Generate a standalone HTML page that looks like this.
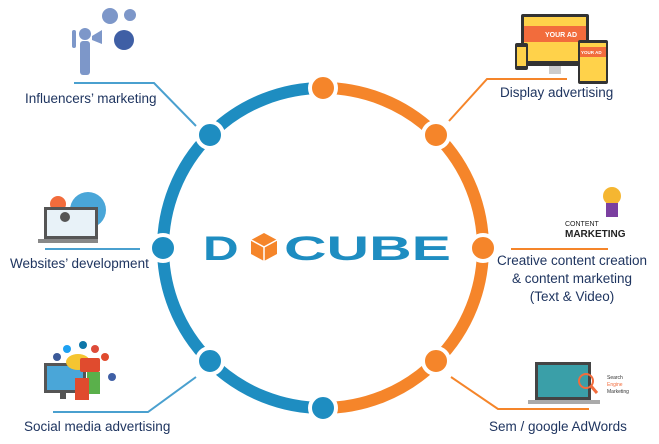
<!DOCTYPE html>
<html><head><meta charset="utf-8"><style>
body{margin:0;background:#fff;width:659px;height:444px;overflow:hidden}
svg{display:block}
text{font-family:"Liberation Sans",sans-serif}
.lbl{fill:#1f3560;font-size:13.5px}
</style></head><body>
<svg width="659" height="444" viewBox="0 0 659 444">
<!-- ring -->
<g>
<path d="M323 88 A160 160 0 0 0 323 408" fill="none" stroke="#1e8dc1" stroke-width="12"/>
<path d="M323 88 A160 160 0 0 1 323 408" fill="none" stroke="#f5852a" stroke-width="12"/>
</g>
<g stroke="#fff" stroke-width="4">
<circle cx="323" cy="88" r="13" fill="#f5852a"/>
<circle cx="436" cy="135" r="13" fill="#f5852a"/>
<circle cx="483" cy="248" r="13" fill="#f5852a"/>
<circle cx="436" cy="361" r="13" fill="#f5852a"/>
<circle cx="323" cy="408" r="13" fill="#1e8dc1"/>
<circle cx="210" cy="361" r="13" fill="#1e8dc1"/>
<circle cx="163" cy="248" r="13" fill="#1e8dc1"/>
<circle cx="210" cy="135" r="13" fill="#1e8dc1"/>
</g>
<!-- logo -->
<g>
<text x="203" y="260" font-size="34" font-weight="bold" fill="#1e8dc1" transform="translate(203 0) scale(1.45 1) translate(-203 0)">D</text>
<g>
<polygon points="264,233 277,240 277,254 264,261 251,254 251,240" fill="#f5852a"/>
<polyline points="251,240 264,247 277,240 M264,247" fill="none" stroke="#fff" stroke-width="1.5"/>
<line x1="264" y1="247" x2="264" y2="261" stroke="#fff" stroke-width="1.5"/>
</g>
<text x="284" y="260" font-size="34" font-weight="bold" fill="#1e8dc1" textLength="167" lengthAdjust="spacingAndGlyphs">CUBE</text>
</g>
<!-- leader lines -->
<g fill="none" stroke-width="2">
<polyline points="74,83 154,83 196,126" stroke="#4aa0cf"/>
<polyline points="567,79 487,79 449,121" stroke="#f5852a"/>
<line x1="45" y1="249" x2="140" y2="249" stroke="#4aa0cf"/>
<line x1="511" y1="249" x2="608" y2="249" stroke="#f5852a"/>
<polyline points="196,377 148,412 53,412" stroke="#4aa0cf"/>
<polyline points="451,377 498,409 589,409" stroke="#f5852a"/>
</g>
<!-- labels -->
<text class="lbl" x="25" y="103">Influencers’ marketing</text>
<text class="lbl" x="500" y="97">Display advertising</text>
<text class="lbl" x="10" y="268">Websites’ development</text>
<g class="lbl" text-anchor="middle">
<text x="572" y="265">Creative content creation</text>
<text x="572" y="283">&amp; content marketing</text>
<text x="572" y="301">(Text &amp; Video)</text>
</g>
<text class="lbl" x="24" y="431">Social media advertising</text>
<text class="lbl" x="489" y="431">Sem / google AdWords</text>
<!-- icons -->
<g fill="#7d97c9">
<circle cx="85" cy="34" r="6"/>
<rect x="80" y="41" width="10" height="34" rx="3"/>
<rect x="72" y="30" width="4" height="18" rx="2"/>
<polygon points="92,36 102,30 102,44 92,40"/>
<circle cx="110" cy="16" r="8"/><circle cx="130" cy="15" r="6"/>
<circle cx="124" cy="40" r="10" fill="#3f5fa5"/>
</g>
<g>
<rect x="521" y="14" width="68" height="52" rx="2" fill="#333"/>
<rect x="524" y="17" width="62" height="44" fill="#ffd24a"/>
<rect x="524" y="26" width="62" height="16" fill="#f26c3c"/>
<text x="545" y="37" font-size="7" font-weight="bold" fill="#fff">YOUR AD</text>
<rect x="549" y="66" width="12" height="8" fill="#ccc"/>
<rect x="578" y="40" width="30" height="44" rx="2" fill="#333"/>
<rect x="580" y="43" width="26" height="38" fill="#ffd24a"/>
<rect x="580" y="47" width="26" height="10" fill="#f26c3c"/>
<text x="581" y="54" font-size="4.5" font-weight="bold" fill="#fff">YOUR AD</text>
<rect x="515" y="43" width="13" height="27" rx="2" fill="#333"/>
<rect x="517" y="47" width="9" height="19" fill="#ffd24a"/>
</g>
<g>
<circle cx="88" cy="210" r="18" fill="#4aa6d8"/>
<circle cx="58" cy="204" r="8" fill="#f26c3c"/>
<rect x="44" y="207" width="54" height="32" fill="#555"/>
<rect x="47" y="210" width="48" height="26" fill="#e8f2f8"/>
<circle cx="65" cy="217" r="5" fill="#555"/>
<rect x="38" y="239" width="60" height="4" fill="#888"/>
</g>
<g>
<circle cx="612" cy="196" r="9" fill="#f5b631"/>
<rect x="606" y="203" width="12" height="14" fill="#7b3fa0"/>
<text x="565" y="226" font-size="7" fill="#222">CONTENT</text>
<text x="565" y="237" font-size="10" font-weight="bold" fill="#222">MARKETING</text>
</g>
<g>
<rect x="44" y="363" width="42" height="30" fill="#555"/>
<rect x="47" y="366" width="36" height="24" fill="#4aa6d8"/>
<rect x="60" y="393" width="6" height="6" fill="#555"/>
<ellipse cx="78" cy="362" rx="12" ry="8" fill="#f5c531"/>
<rect x="80" y="358" width="20" height="14" rx="2" fill="#e04b2e"/>
<rect x="87" y="372" width="13" height="22" fill="#5ab04b"/>
<rect x="75" y="378" width="14" height="22" fill="#e04b2e"/>
<circle cx="57" cy="357" r="4" fill="#3b5998"/><circle cx="67" cy="349" r="4" fill="#1da1f2"/>
<circle cx="83" cy="345" r="4" fill="#0e76a8"/><circle cx="95" cy="349" r="4" fill="#dd4b39"/>
<circle cx="105" cy="357" r="4" fill="#e04b2e"/><circle cx="112" cy="377" r="4" fill="#3f5fa5"/>
</g>
<g>
<rect x="535" y="362" width="56" height="38" fill="#444"/>
<rect x="538" y="365" width="50" height="32" fill="#3a9fa8"/>
<rect x="528" y="400" width="72" height="4" fill="#aaa"/>
<circle cx="586" cy="381" r="7" fill="none" stroke="#f26c3c" stroke-width="2"/>
<line x1="591" y1="386" x2="597" y2="393" stroke="#f26c3c" stroke-width="3"/>
<text x="607" y="379" font-size="5" fill="#333">Search</text>
<text x="607" y="386" font-size="5" fill="#f26c3c">Engine</text>
<text x="607" y="393" font-size="5" fill="#333">Marketing</text>
</g>
</svg>
</body></html>
